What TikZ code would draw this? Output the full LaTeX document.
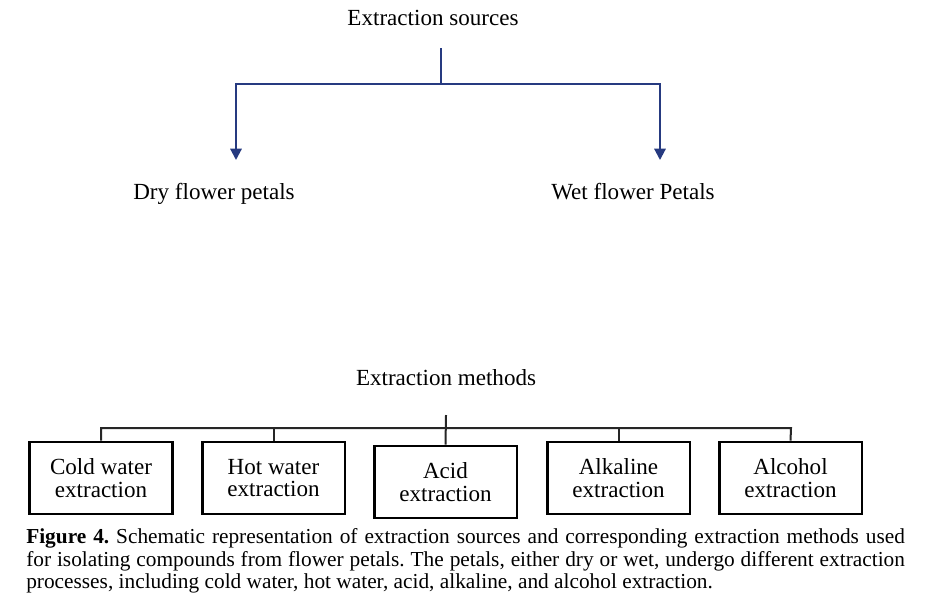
\documentclass[tikz,border=0pt]{standalone}
\usepackage{fontspec}
\setmainfont{Liberation Serif}
\usetikzlibrary{arrows.meta}
\definecolor{navy}{RGB}{38,58,128}
\frenchspacing
\begin{document}
\begin{tikzpicture}[x=0.75pt,y=-0.75pt,
  lbl/.style={font=\fontsize{17.3}{20}\selectfont, inner sep=0pt, anchor=base},
  mbox/.style={draw, line width=2pt, minimum width=107pt, minimum height=54pt, align=center,
     font=\fontsize{17.3}{16.7}\selectfont, inner sep=0pt},
  navyline/.style={draw=navy, line width=1.6pt},
  tline/.style={draw=black!85, line width=1.5pt},
  captext/.style={font=\fontsize{16}{18}\selectfont, inner sep=0pt, anchor=base west}]
\useasboundingbox (0,0) rectangle (944,600);
% top tree
\node[lbl] (src) at (433,25) {Extraction sources};
\node[lbl] (dry) at (214,199) {Dry flower petals};
\node[lbl] (wet) at (633,199) {Wet flower Petals};
\coordinate (t0) at (441,48);
\coordinate (t1) at (441,84);
\coordinate (l1) at (236,84);
\coordinate (r1) at (660,84);
\coordinate (l2) at (236,160);
\coordinate (r2) at (660,160);
\draw[navyline] (t0) -- (t1);
\draw[navyline, -{Triangle[width=8.5pt,length=8.5pt]}] (t1) -- (l1) -- (l2);
\draw[navyline, -{Triangle[width=8.5pt,length=8.5pt]}] (t1) -- (r1) -- (r2);
% bottom tree
\node[lbl] (meth) at (446,385) {Extraction methods};
\node[mbox] (b1) at (101,478) {Cold water\\extraction};
\node[mbox] (b2) at (273.5,478) {Hot water\\extraction};
\node[mbox] (b3) at (445.5,482) {Acid\\extraction};
\node[mbox] (b4) at (618.5,478) {Alkaline\\extraction};
\node[mbox] (b5) at (790.5,478) {Alcohol\\extraction};
\coordinate (m0) at (446,415);
\coordinate (h1) at (101,428);
\coordinate (h5) at (791,428);
\draw[tline] (m0) -- (b3.north);
\draw[tline] (b1.north) -- (h1) -- (h5) -- (b5.north);
\draw[tline] (b2.north) -- (b2.north |- h1);
\draw[tline] (b4.north) -- (b4.north |- h1);
% caption
\node[captext] (c1) at (26,543.5) {\makebox[659pt][s]{\textbf{Figure 4.} Schematic representation of extraction sources and corresponding extraction methods used}};
\node[captext] (c2) at (26,566) {\makebox[659pt][s]{for isolating compounds from flower petals. The petals, either dry or wet, undergo different extraction}};
\node[captext] (c3) at (26,588.5) {processes, including cold water, hot water, acid, alkaline, and alcohol extraction.};
\end{tikzpicture}
\end{document}
